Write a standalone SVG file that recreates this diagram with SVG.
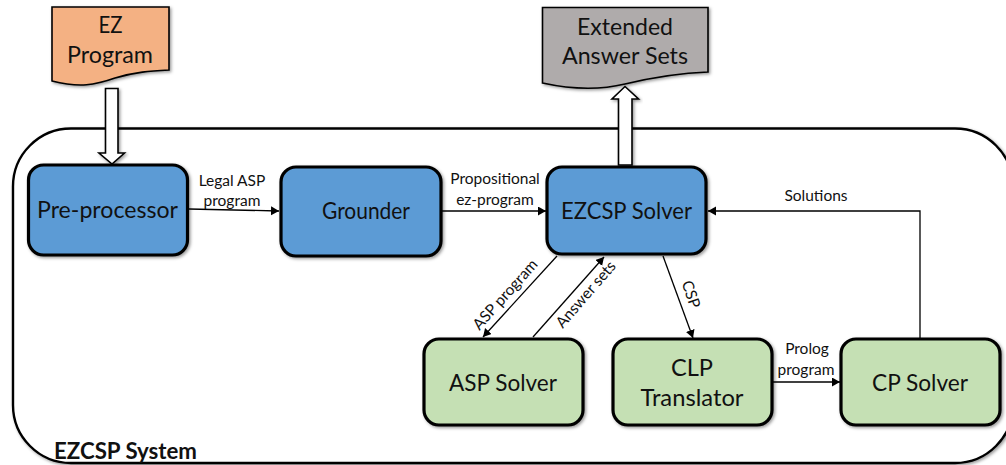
<svg xmlns="http://www.w3.org/2000/svg" width="1006" height="465" viewBox="0 0 1006 465">
<style>
text{font-family:"Lato","Open Sans","Liberation Sans",sans-serif;fill:#111;text-anchor:middle}
.big{font-size:23.500px}
.small{font-size:15.500px}
.blue{fill:#5b9bd5;stroke:#000;stroke-width:3.2}
.green{fill:#c5e0b4;stroke:#000;stroke-width:3.2}
.conn{fill:none;stroke:#000;stroke-width:1.3;marker-end:url(#arr)}
.block{fill:#fff;stroke:#000;stroke-width:1.6}
.doc{stroke:#000;stroke-width:1.6}
</style>
<defs>
<marker id="arr" markerUnits="userSpaceOnUse" markerWidth="10" markerHeight="10" refX="8" refY="4.5" orient="auto"><path d="M0 0L8 4.5L0 9Z" fill="#000"/></marker>
<filter id="sh" x="-10%" y="-10%" width="125%" height="125%"><feDropShadow dx="1.5" dy="1.5" stdDeviation="1.5" flood-color="#000" flood-opacity=".4"/></filter>
</defs>
<g id="system">
<rect x="13" y="128.500" width="1000" height="334.500" rx="58" ry="58" fill="#fff" stroke="#000" stroke-width="2.400" filter="url(#sh)"/>
<text x="125.500" y="459" style="font-size:22px;font-weight:700" textLength="143" lengthAdjust="spacingAndGlyphs">EZCSP System</text>
</g>
<g id="ez-program">
<path class="doc" filter="url(#sh)" fill="#f4b183" d="M52 7H169V70C150 71 135 72 115 78C95 85 80 88 52 81Z"/>
<text class="big" x="110.500" y="33" textLength="24" lengthAdjust="spacingAndGlyphs">EZ</text><text class="big" x="110" y="63" textLength="86" lengthAdjust="spacingAndGlyphs">Program</text>
</g>
<g id="extended-answer-sets">
<path class="doc" filter="url(#sh)" fill="#afabab" d="M542.500 7.500H708V72C680 73 650 78 625 84C600 90 570 89 542.500 83Z"/>
<text class="big" x="625" y="35" textLength="96" lengthAdjust="spacingAndGlyphs">Extended</text><text class="big" x="625" y="64" textLength="126" lengthAdjust="spacingAndGlyphs">Answer Sets</text>
</g>
<g id="connectors">
<path class="block" filter="url(#sh)" d="M105.500 88.500H118V153H124.500L112 164L99 153H105.500Z"/>
<path class="block" filter="url(#sh)" d="M618.500 165V99H612L625 86.500L638.500 99H632V165Z"/>
<path class="conn" d="M189 209L279 211"/>
<path class="conn" d="M442 211L546 211"/>
<path class="conn" d="M557 256L483 337"/>
<path class="conn" d="M533 337L604 257"/>
<path class="conn" d="M663 256L693 338"/>
<path class="conn" d="M773 382H840"/>
<path class="conn" d="M920 338V211H708"/>
</g>
<g id="pre-processor"><rect class="blue" filter="url(#sh)" x="28.500" y="165" width="159" height="90" rx="15"/><text class="big" x="107.500" y="218" textLength="141" lengthAdjust="spacingAndGlyphs">Pre-processor</text></g>
<g id="grounder"><rect class="blue" filter="url(#sh)" x="281" y="167" width="160" height="89" rx="15"/><text class="big" x="366" y="219" textLength="88" lengthAdjust="spacingAndGlyphs">Grounder</text></g>
<g id="ezcsp-solver"><rect class="blue" filter="url(#sh)" x="547" y="167" width="159" height="87" rx="15"/><text class="big" x="626.500" y="219" textLength="131" lengthAdjust="spacingAndGlyphs">EZCSP Solver</text></g>
<g id="asp-solver"><rect class="green" filter="url(#sh)" x="424" y="339" width="159" height="86" rx="15"/><text class="big" x="503" y="391" textLength="108" lengthAdjust="spacingAndGlyphs">ASP Solver</text></g>
<g id="clp-translator"><rect class="green" filter="url(#sh)" x="613" y="339" width="159" height="86" rx="15"/><text class="big" x="692" y="376" textLength="42" lengthAdjust="spacingAndGlyphs">CLP</text><text class="big" x="692" y="406" textLength="103" lengthAdjust="spacingAndGlyphs">Translator</text></g>
<g id="cp-solver"><rect class="green" filter="url(#sh)" x="841" y="339" width="159" height="86" rx="15"/><text class="big" x="920" y="391" textLength="96" lengthAdjust="spacingAndGlyphs">CP Solver</text></g>
<g id="labels">
<text class="small" x="232" y="186">Legal ASP</text><text class="small" x="232" y="206">program</text>
<text class="small" x="495" y="184">Propositional</text><text class="small" x="495" y="205">ez-program</text>
<text class="small" x="816" y="201">Solutions</text>
<text class="small" x="807" y="354">Prolog</text><text class="small" x="806" y="375">program</text>
<text class="small" transform="translate(509 298) rotate(-48)">ASP program</text>
<text class="small" transform="translate(593 294) rotate(-49)" x="-5">Answer sets</text>
<text class="small" transform="translate(686 296) rotate(71)">CSP</text>
</g>
</svg>
